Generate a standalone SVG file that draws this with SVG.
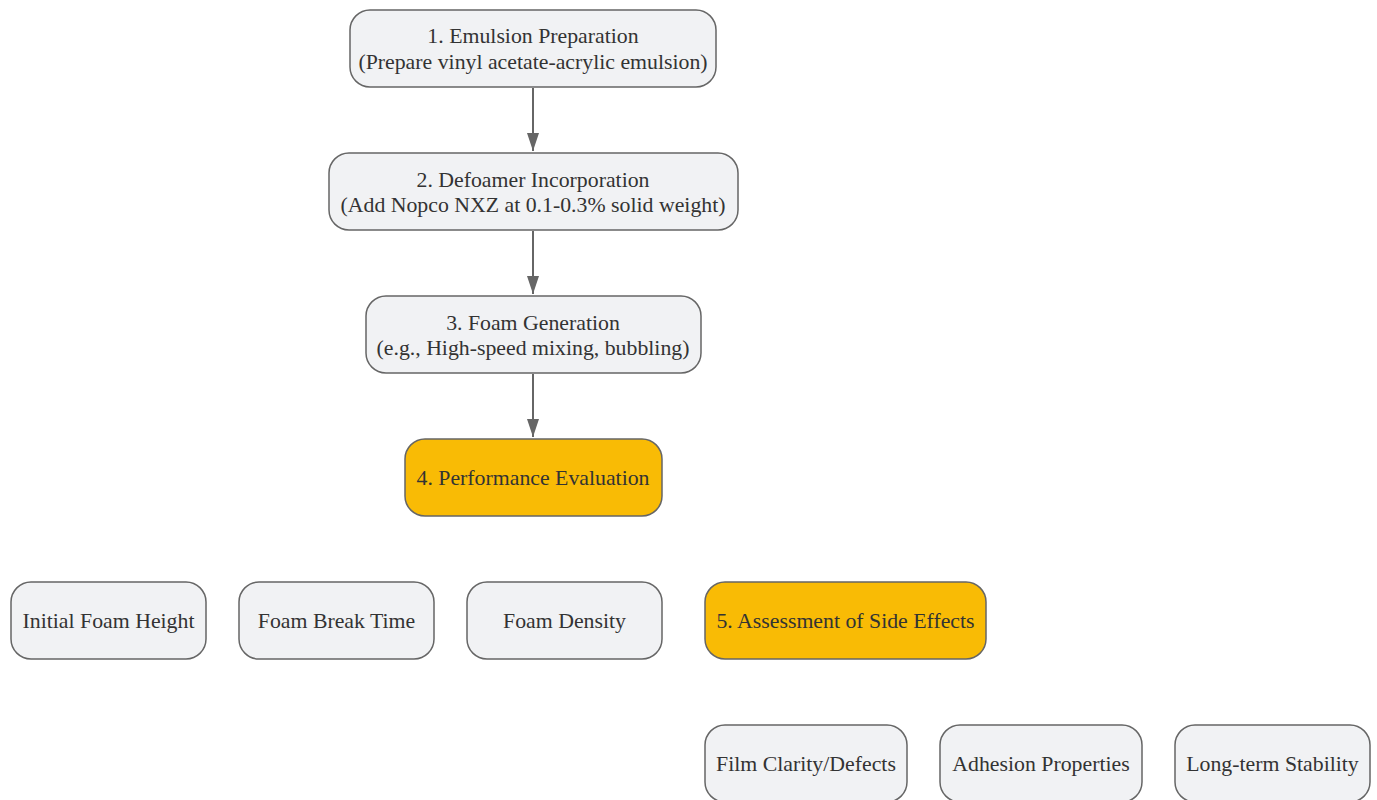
<svg xmlns="http://www.w3.org/2000/svg" width="1377" height="800" viewBox="0 0 1377 800">
<style>
.n rect{fill:#f1f2f4;stroke:#666;stroke-width:1.5}
.n.hl rect{fill:#f9bb05}
.n text{font-family:"Liberation Serif","Times New Roman",serif;font-size:21.8px;fill:#333;text-anchor:middle}
.e{stroke:#666;stroke-width:2;fill:none}
</style>
<defs>
<marker id="ah" viewBox="0 0 18 12" refX="18" refY="6" markerWidth="18" markerHeight="12" markerUnits="userSpaceOnUse" orient="auto">
<path d="M0,0 L18,6 L0,12 z" fill="#666"/>
</marker>
</defs>
<rect width="1377" height="800" fill="#fff"/>
<g id="connectors">
<path class="e" d="M533,88 V151" marker-end="url(#ah)"/>
<path class="e" d="M533,231 V294" marker-end="url(#ah)"/>
<path class="e" d="M533,374 V437" marker-end="url(#ah)"/>
</g>
<g id="n1" class="n"><rect x="350" y="10" width="366" height="77" rx="20"/><text x="533" y="43">1. Emulsion Preparation</text><text x="533" y="69">(Prepare vinyl acetate-acrylic emulsion)</text></g>
<g id="n2" class="n"><rect x="329" y="153" width="409" height="77" rx="20"/><text x="533" y="187">2. Defoamer Incorporation</text><text x="533" y="212">(Add Nopco NXZ at 0.1-0.3% solid weight)</text></g>
<g id="n3" class="n"><rect x="366" y="296" width="335" height="77" rx="20"/><text x="533" y="330">3. Foam Generation</text><text x="533" y="355">(e.g., High-speed mixing, bubbling)</text></g>
<g id="n4" class="n hl"><rect x="405" y="439" width="257" height="77" rx="20"/><text x="533" y="485">4. Performance Evaluation</text></g>
<g id="n5" class="n"><rect x="11" y="582" width="195" height="77" rx="20"/><text x="108.5" y="628">Initial Foam Height</text></g>
<g id="n6" class="n"><rect x="239" y="582" width="195" height="77" rx="20"/><text x="336.5" y="628">Foam Break Time</text></g>
<g id="n7" class="n"><rect x="467" y="582" width="195" height="77" rx="20"/><text x="564.5" y="628">Foam Density</text></g>
<g id="n8" class="n hl"><rect x="705" y="582" width="281" height="77" rx="20"/><text x="845.5" y="628">5. Assessment of Side Effects</text></g>
<g id="n9" class="n"><rect x="705" y="725" width="202" height="77" rx="20"/><text x="806" y="771">Film Clarity/Defects</text></g>
<g id="n10" class="n"><rect x="940" y="725" width="202" height="77" rx="20"/><text x="1041" y="771">Adhesion Properties</text></g>
<g id="n11" class="n"><rect x="1175" y="725" width="195" height="77" rx="20"/><text x="1272.5" y="771">Long-term Stability</text></g>
</svg>
